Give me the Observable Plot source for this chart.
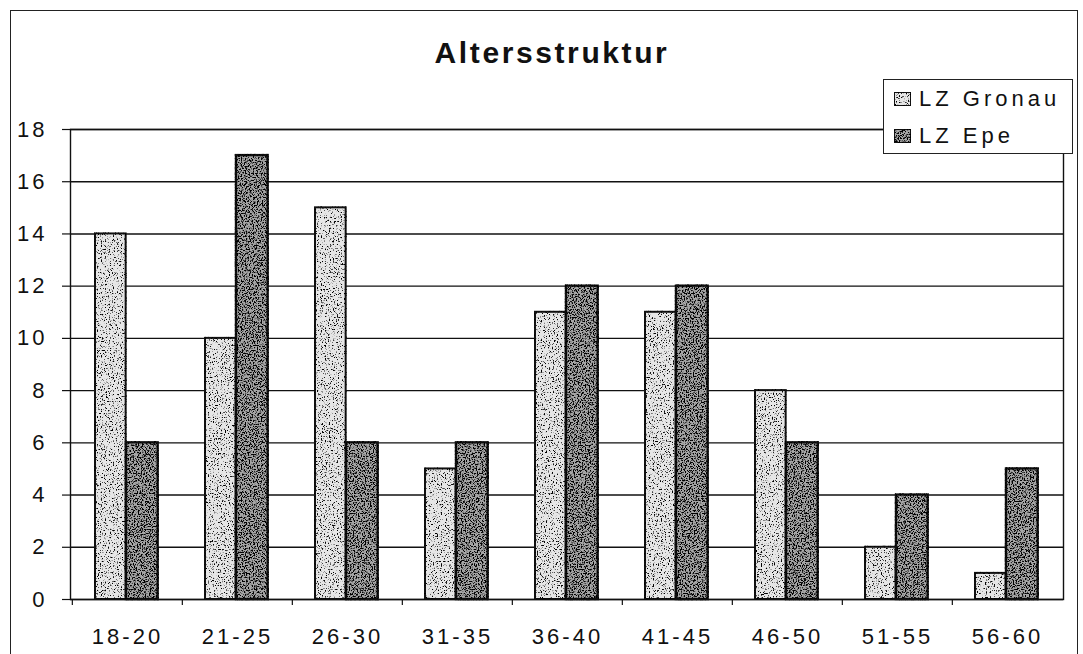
<!DOCTYPE html>
<html>
<head>
<meta charset="utf-8">
<script src="https://cdn.jsdelivr.net/npm/d3@7"></script>
<script src="https://cdn.jsdelivr.net/npm/@observablehq/plot@0.6"></script>
<style>
  html, body { margin: 0; padding: 0; background: #fff; overflow: hidden; }
  #wrap { position: relative; width: 1083px; height: 654px; font-family: "Liberation Sans", Arial, sans-serif; }
  #outer { position: absolute; left: 10px; top: 10px; width: 1068px; height: 700px; border: 1.5px solid #222; box-sizing: border-box; pointer-events: none; }
  #legend { position: absolute; left: 883px; top: 79px; width: 190px; height: 75px; border: 1.5px solid #222; box-sizing: border-box; background: #fff; }
  .item { position: absolute; left: 10px; display: flex; align-items: center; font-size: 22px; letter-spacing: 4px; color: #111; }
  .sw { width: 15px; height: 12px; border: 1.5px solid #111; margin-right: 8px; }
  #chart svg text { letter-spacing: 3px; }
  #chart svg g[aria-label="text"] text { letter-spacing: 2.6px; }
</style>
</head>
<body>
<svg width="0" height="0" style="position:absolute">
  <defs>
    <filter id="grainLight" x="-10%" y="-10%" width="120%" height="120%" color-interpolation-filters="sRGB">
      <feTurbulence type="fractalNoise" baseFrequency="0.75" numOctaves="2" seed="4" result="noise"/>
      <feColorMatrix in="noise" type="matrix" values="0 0 0 0 0  0 0 0 0 0  0 0 0 0 0  7 0 0 0 -4.0" result="dots"/>
      <feComposite in="dots" in2="SourceGraphic" operator="in" result="clipped"/>
      <feMerge><feMergeNode in="SourceGraphic"/><feMergeNode in="clipped"/></feMerge>
    </filter>
    <filter id="grainDark" x="-10%" y="-10%" width="120%" height="120%" color-interpolation-filters="sRGB">
      <feTurbulence type="fractalNoise" baseFrequency="0.75" numOctaves="2" seed="9" result="noise"/>
      <feColorMatrix in="noise" type="matrix" values="0 0 0 0 0  0 0 0 0 0  0 0 0 0 0  7 0 0 0 -3.35" result="dots"/>
      <feComposite in="dots" in2="SourceGraphic" operator="in" result="clipped"/>
      <feMerge><feMergeNode in="SourceGraphic"/><feMergeNode in="clipped"/></feMerge>
    </filter>
  </defs>
</svg>
<div id="wrap">
  <div id="chart"></div>
  <div id="legend"></div>
  <div id="outer"></div>
</div>
<script>
const title = "Altersstruktur";
const ageGroups = ["18-20", "21-25", "26-30", "31-35", "36-40", "41-45", "46-50", "51-55", "56-60"];
const seriesNames = ["LZ Gronau", "LZ Epe"];
const gronau = [14, 10, 15, 5, 11, 11, 8, 2, 1];
const epe = [6, 17, 6, 6, 12, 12, 6, 4, 5];
const yTicks = [0, 2, 4, 6, 8, 10, 12, 14, 16, 18];
const seriesColors = ["#e6e6e6", "#a6a6a6"];
const seriesFilters = ["url(#grainLight)", "url(#grainDark)"];

const gronauData = ageGroups.map((g, i) => ({age: g, series: seriesNames[0], value: gronau[i]}));
const epeData = ageGroups.map((g, i) => ({age: g, series: seriesNames[1], value: epe[i]}));

const step = (1063 - 70) / ageGroups.length;

const chart = Plot.plot({
  width: 1083,
  height: 654,
  marginLeft: 70,
  marginRight: 20,
  marginTop: 129,
  marginBottom: 55,
  style: {fontFamily: "'Liberation Sans', Arial, sans-serif", background: "#fff", color: "#111"},
  x: {domain: ageGroups, padding: 0, label: null},
  y: {domain: [0, 18], label: null},
  color: {domain: seriesNames, range: seriesColors},
  marks: [
    Plot.gridY(yTicks, {stroke: "#111", strokeOpacity: 1, strokeWidth: 1.4}),
    Plot.barY(gronauData, {x: "age", y: "value", fill: "series", stroke: "#111", strokeWidth: 2, insetLeft: 23, insetRight: step - 54}),
    Plot.barY(epeData, {x: "age", y: "value", fill: "series", stroke: "#111", strokeWidth: 2.4, insetLeft: 54, insetRight: step - 86}),
    Plot.frame({stroke: "#111", strokeWidth: 1.4}),
    Plot.axisY(yTicks, {tickSize: 8, tickPadding: 15, fontSize: 22, label: null, tickFormat: d => d, stroke: "#111", strokeWidth: 1.2}),
    Plot.axisX({tickSize: 0, tickPadding: 29, fontSize: 22, label: null}),
    Plot.axisX({tickSize: 6, tickFormat: () => "", label: null, dx: -step / 2, stroke: "#111", strokeWidth: 1.2}),
    Plot.text([title], {frameAnchor: "top", dx: -15, dy: -67, lineAnchor: "bottom", fontSize: 30, fontWeight: "bold", fill: "#111"})
  ]
});
document.getElementById("chart").appendChild(chart);

// apply stipple texture to each series' bars
const barGroups = chart.querySelectorAll('g[aria-label="bar"]');
barGroups.forEach((g, i) => {
  g.querySelectorAll("rect").forEach(r => r.setAttribute("filter", seriesFilters[i]));
});

const legend = document.getElementById("legend");
seriesNames.forEach((name, i) => {
  const item = document.createElement("div");
  item.className = "item";
  item.style.top = (i === 0 ? 6 : 43) + "px";
  const sw = document.createElement("div");
  sw.className = "sw";
  sw.style.background = seriesColors[i];
  sw.style.filter = seriesFilters[i];
  item.appendChild(sw);
  const t = document.createElement("span");
  t.textContent = name;
  item.appendChild(t);
  legend.appendChild(item);
});
</script>
</body>
</html>
